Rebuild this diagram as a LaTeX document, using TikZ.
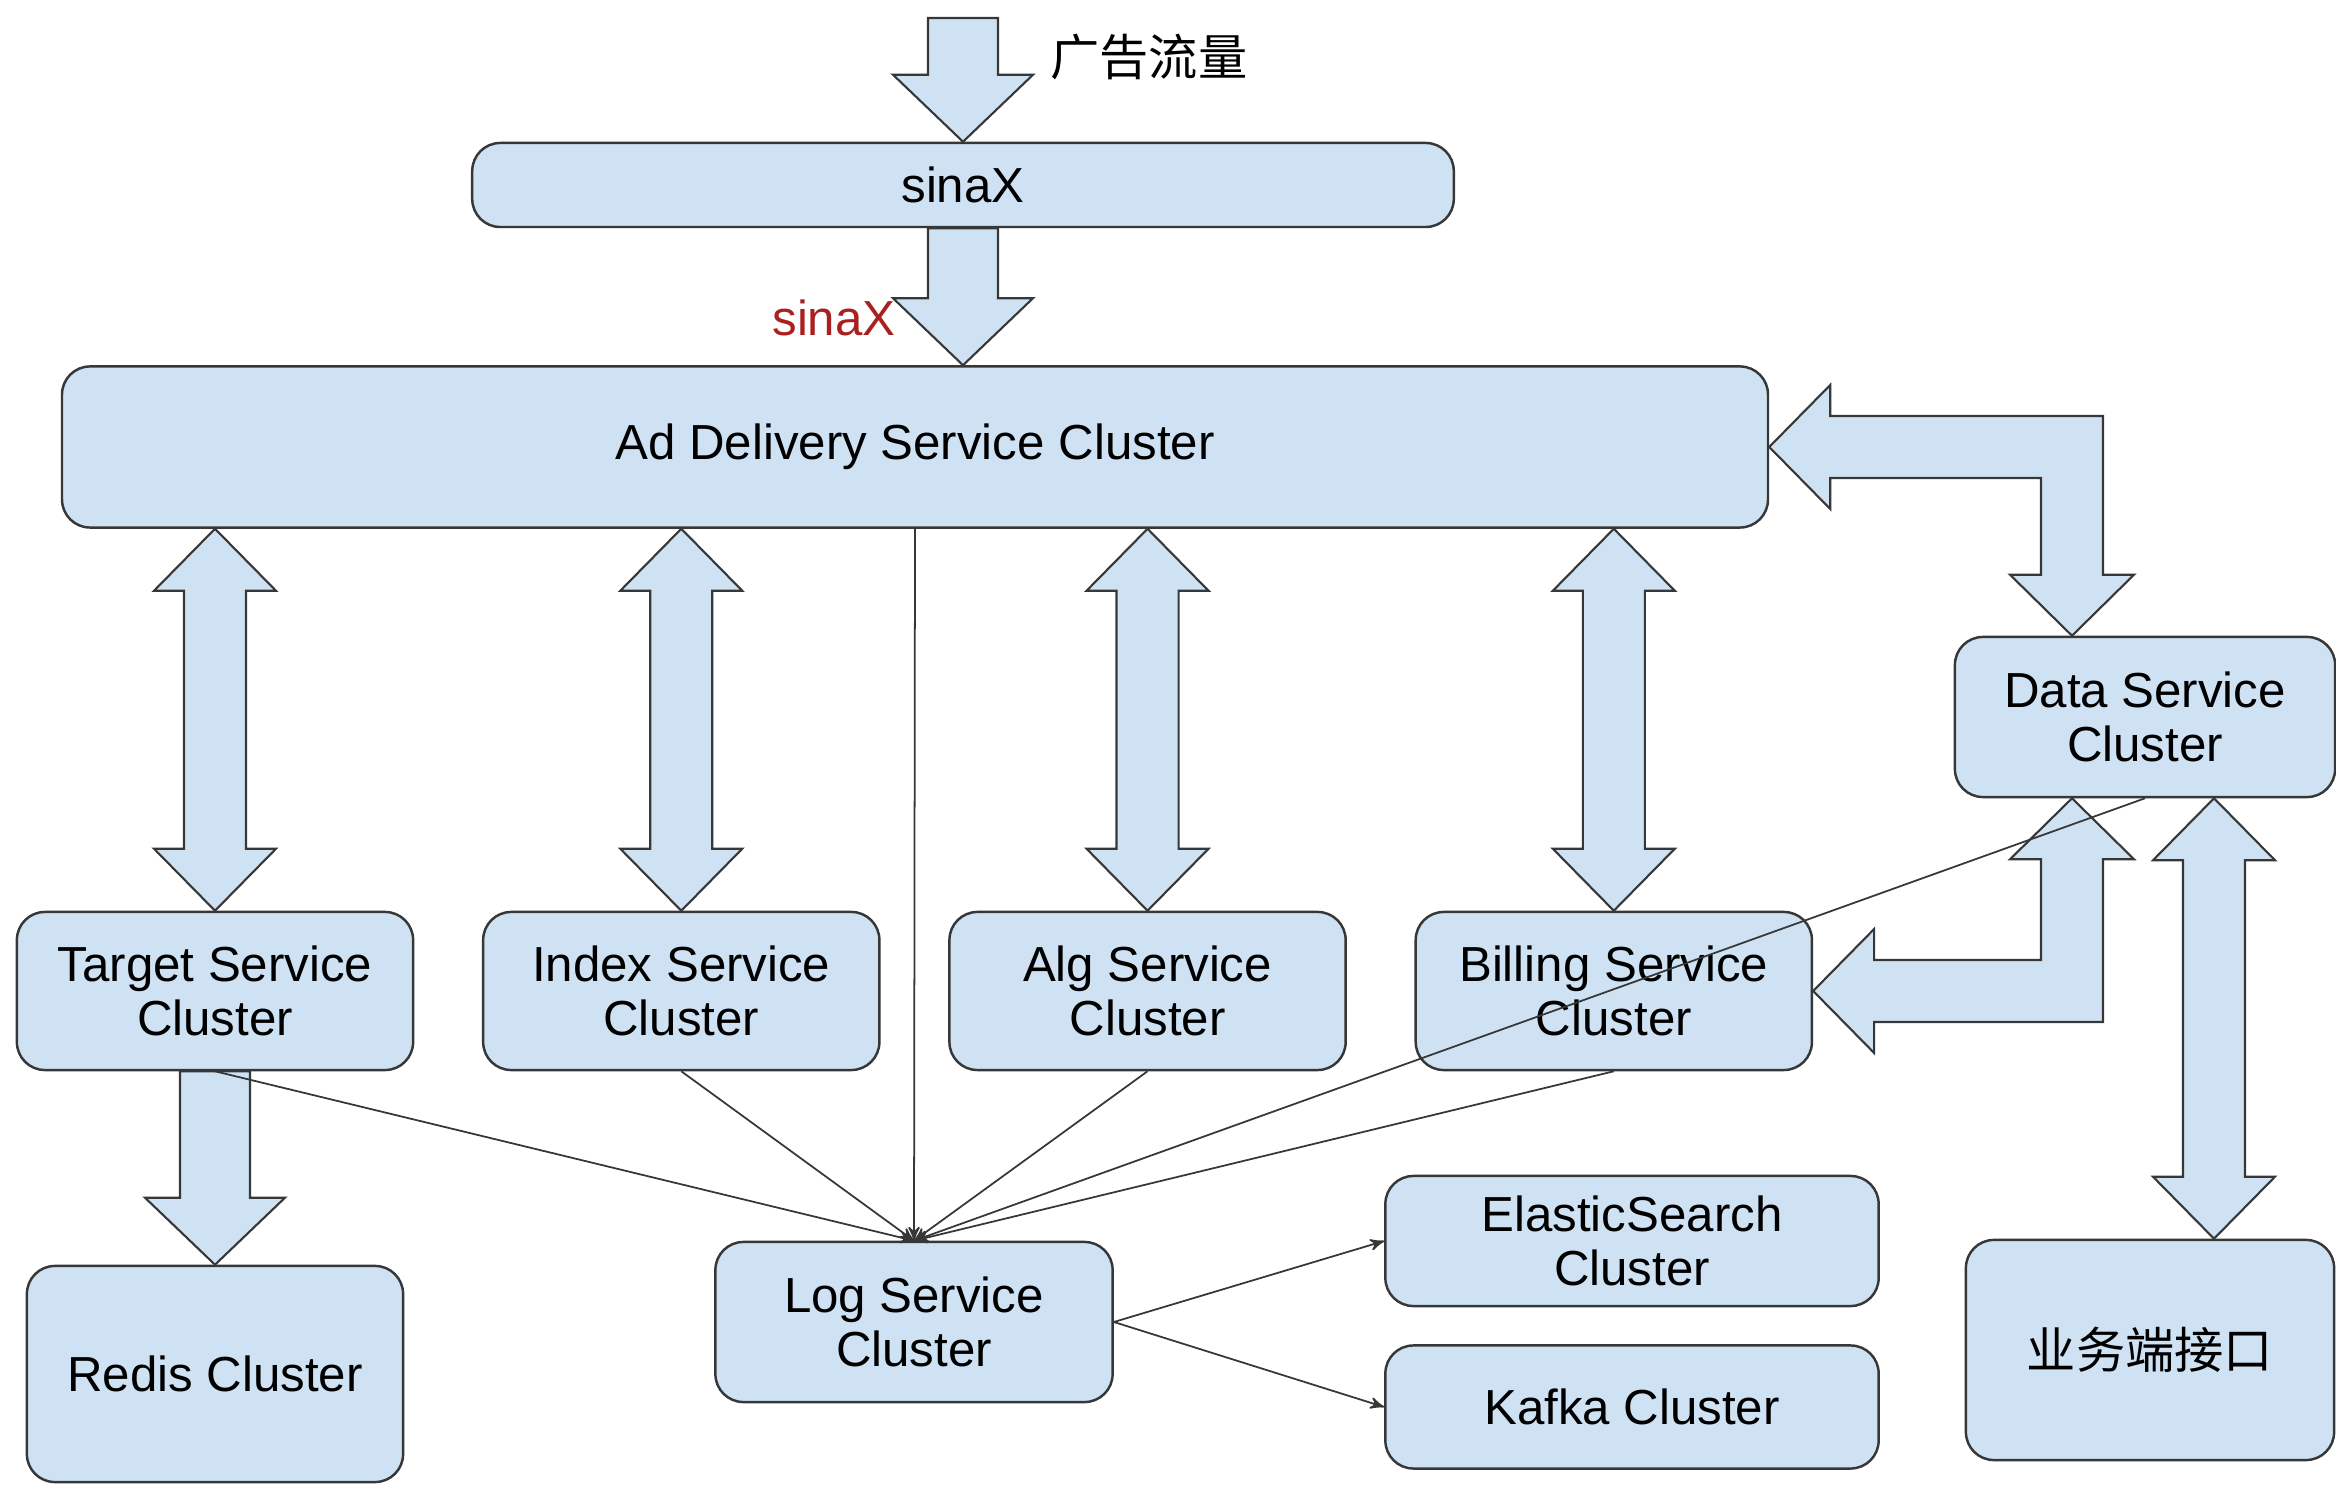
\documentclass[tikz,border=0pt]{standalone}
\usepackage{fontspec}
\setmainfont{Liberation Sans}
\newfontfamily\cjk{Noto Sans CJK SC}
\usepackage{tikz}
\usetikzlibrary{arrows,calc,positioning}

\definecolor{boxblue}{RGB}{207,226,243}
\definecolor{boxline}{RGB}{55,55,55}
\definecolor{sinared}{RGB}{170,32,32}

\tikzset{
	cluster/.style={draw=boxline, fill=boxblue, line width=0.7pt, rounded corners=0.28cm,
		align=center, inner sep=0pt, font=\fontsize{14}{15.5}\selectfont},
	fat/.style={draw=boxline, fill=boxblue, line width=0.6pt, line join=miter}
}

% fat arrow from #1 down to its tip #2
\newcommand{\fatdown}[2]{\draw[fat] ($(#1)+(-35,0)$) -- ($(#2)+(-35,-67)$) -- ++(-35,0) -- (#2)
	-- ++(70,-67) -- ++(-35,0) -- ($(#1)+(35,0)$) -- cycle;}
% fat double arrow, tips #1 (top) and #2 (bottom)
\newcommand{\fatboth}[2]{\draw[fat] (#1) -- ++(-61,62) -- ++(30,0) -- ($(#2)+(-31,-62)$) -- ++(-30,0)
	-- (#2) -- ++(61,-62) -- ++(-30,0) -- ($(#1)+(31,62)$) -- ++(30,0) -- cycle;}

\begin{document}
\begin{tikzpicture}[x=0.01cm, y=-0.01cm, >=stealth', node distance=4.66cm]
	\useasboundingbox (0,0) rectangle (2336,1486);

	% Nodes
	\node [cluster, minimum width=9.81cm, minimum height=0.84cm]	(sinax) 	at (963,185)	{sinaX};
	\node [cluster, minimum width=17.05cm, minimum height=1.61cm]	(ad)		at (915,447)	{Ad Delivery Service Cluster};
	\node [cluster, minimum width=3.96cm, minimum height=1.58cm]	(target)	at (215,991)	{Target Service\\Cluster};
	\node [cluster, minimum width=3.96cm, minimum height=1.58cm]	(index)		[right of=target]	{Index Service\\Cluster};
	\node [cluster, minimum width=3.96cm, minimum height=1.58cm]	(alg)		[right of=index]	{Alg Service\\Cluster};
	\node [cluster, minimum width=3.96cm, minimum height=1.58cm]	(billing)	[right of=alg]		{Billing Service\\Cluster};
	\node [cluster, minimum width=3.80cm, minimum height=1.60cm]	(data)		at (2145,717)	{Data Service\\Cluster};
	\node [cluster, minimum width=3.76cm, minimum height=2.16cm]	(redis)		at (215,1374)	{Redis Cluster};
	\node [cluster, minimum width=3.97cm, minimum height=1.60cm]	(log)		at (914,1322)	{Log Service\\Cluster};
	\node [cluster, minimum width=4.93cm, minimum height=1.30cm]	(elastic)	at (1632,1241)	{ElasticSearch\\Cluster};
	\node [cluster, minimum width=4.93cm, minimum height=1.23cm]	(kafka)		at (1632,1407)	{Kafka Cluster};
	\node [cluster, minimum width=3.68cm, minimum height=2.20cm, font=\cjk\fontsize{14}{16}\selectfont]
																	(biz)		at (2150,1350)	{业务端接口};

	% Labels
	\coordinate (traffic) at (963,18);
	\node [anchor=west, font=\cjk\fontsize{14}{16}\selectfont]		(trafficlabel)	at (1038,57)	{广告流量};
	\node [anchor=east, text=sinared, font=\fontsize{14}{16}\selectfont]	(sinaxlabel)	at (908,318)	{sinaX};

	% Fat arrows
	\fatdown{traffic}{sinax.north}
	\fatdown{sinax.south}{sinax.south |- ad.north}
	\fatdown{target.south}{redis.north}
	\fatboth{ad.south -| target.north}{target.north}
	\fatboth{ad.south -| index.north}{index.north}
	\fatboth{ad.south -| alg.north}{alg.north}
	\fatboth{ad.south -| billing.north}{billing.north}

	% Data Service links
	\coordinate (dtl) at ($(data.north)+(-73,0)$);
	\coordinate (dbl) at ($(data.south)+(-73,0)$);
	\coordinate (dbr) at ($(data.south)+(69,0)$);
	\draw [fat] (ad.east) -- ++(61,-62) -- ++(0,31) -| ($(dtl)+(31,-61)$) -- ++(31,0) -- (dtl)
		-- ++(-62,-61) -- ++(31,0) |- ($(ad.east)+(61,31)$) -- ++(0,31) -- cycle;
	\draw [fat] (dbl) -- ++(62,61) -- ++(-31,0) |- ($(billing.east)+(61,31)$) -- ++(0,31) -- (billing.east)
		-- ++(61,-62) -- ++(0,31) -| ($(dbl)+(-31,61)$) -- ++(-31,0) -- cycle;
	\fatboth{dbr}{dbr |- biz.north}

	% Log paths
	\path [->, color=boxline, line width=0.5pt]
	(target.south)	edge (log.north)
	(index.south)	edge (log.north)
	(ad.south)		edge (log.north)
	(alg.south)		edge (log.north)
	(billing.south)	edge (log.north)
	(data.south)	edge (log.north)
	(log.east)		edge (elastic.west)
	(log.east)		edge (kafka.west);

\end{tikzpicture}
\end{document}
